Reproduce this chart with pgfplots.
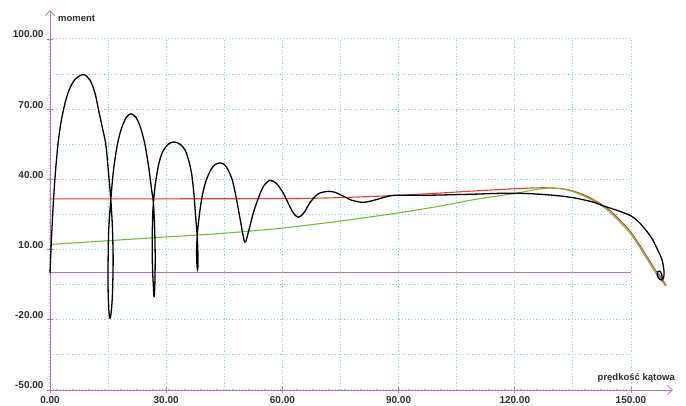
\documentclass[border=0pt]{standalone}
\usepackage{fontspec}
\setmainfont{Liberation Sans}
\usepackage{pgfplots}
\pgfplotsset{compat=1.18}
\usetikzlibrary{arrows.meta}
\definecolor{axp}{RGB}{192,110,192}
\definecolor{gridc}{RGB}{140,210,232}
\definecolor{redc}{RGB}{232,62,45}
\definecolor{greenc}{RGB}{110,190,60}
\definecolor{lab}{RGB}{45,45,45}
\begin{document}
\begin{tikzpicture}
\begin{axis}[name=ax, scale only axis, width=581pt, height=351pt,
 xmin=0, xmax=150, ymin=-50, ymax=100, clip=false,
 axis lines=left,
 axis line style={axp, line width=0.8pt},
 x axis line style={-{Straight Barb[length=5pt,width=9pt]}, shorten >=-42pt},
 y axis line style={-{Straight Barb[length=5pt,width=9pt]}, shorten >=-29pt},
 xtick={0,30,...,150}, ytick={-50,-20,...,100},
 minor xtick={15,45,...,135}, minor ytick={-35,-5,...,85},
 grid=both,
 major grid style={gridc, line width=1pt, dash pattern=on 1.2pt off 2pt},
 minor grid style={gridc, line width=1pt, dash pattern=on 1.2pt off 2pt},
 tick align=center, major tick length=6pt, minor tick length=0pt,
 tick style={axp, line width=0.8pt},
 /pgf/number format/.cd, fixed, fixed zerofill, precision=2, 1000 sep={}, assume math mode=true,
 /pgfplots/.cd,
 tick label style={font=\bfseries\fontsize{10}{12}\selectfont, text=lab},
 yticklabel style={anchor=base east, yshift=1pt},
]
\addplot[draw=axp, color=axp, line width=1pt, no marks] coordinates {(0,0) (150,0)};
\addplot[draw=redc, line width=1.1pt, smooth, no marks] coordinates {
(0,31.7) (30,31.7) (60,31.8) (70,32.0) (80,32.5) (90,33.2) (100,34.1) (110,35.1) (120,36.0) (126,36.4) (130,36.3) (134,35.5) (138,33.3) (141,30.7) (144,27.5) (147,22.8) (150,17.4) (153,10) (156,2) (158.2,-3) (159.1,-5.4)};
\addplot[draw=greenc, line width=1.1pt, smooth, no marks] coordinates {
(0,12.2) (15,13.8) (30,15.4) (45,17.0) (60,19.2) (75,22.2) (90,25.7) (100,28.4) (110,31.5) (120,34.0) (126,35.8) (130,36.3) (134,35.3) (138,32.8) (141,30.2) (144,26.8) (147,22) (150,16.5) (153,9) (156,1) (158,-3.5) (158.8,-5.5)};
\addplot[draw=black, line width=1.3pt, smooth, tension=0.5, no marks] coordinates {
(0,0) (0.3,12) (0.86,30) (1.4,43) (2.1,55.6) (2.9,65) (3.9,72.7) (5,78.5) (6.5,82.8) (8.6,84.8) (10.3,82.5) (11.6,77) (12.5,70) (13.4,63) (14.4,55) (15.1,43) (15.7,31.4) (16.1,20) (16.3,6) (16.15,-8) (15.85,-16) (15.5,-19.3) (15.2,-16) (15.0,-7) (15.0,5) (15.15,18) (15.7,31.4) (16.4,44) (17.4,55) (18.5,62) (19.7,66.5) (20.9,68) (22.2,66.5) (23.4,62) (24.5,55) (25.5,45) (26.2,36) (26.7,30) (27.0,20) (27.15,8) (27.1,-3) (26.95,-9) (26.85,-10) (26.7,-6) (26.45,3) (26.4,15) (26.5,24) (26.7,30) (27.2,38) (28,46) (29,51.5) (30.5,55) (32,56) (33.6,55) (34.9,52.5) (35.9,47.5) (36.6,42) (37.2,33) (37.6,24) (38.0,15.7) (38.2,8) (38.2,3) (38.1,1.5) (37.95,3) (37.85,9) (38.0,15.7) (38.5,24) (39.2,32) (40.2,39) (41.5,44) (42.6,46.3) (43.7,47) (44.9,46.5) (46,44) (47.1,39.5) (48.1,32) (49.2,22) (50.3,13.2) (51.3,18) (52.5,25.7) (53.8,32) (55.1,37) (56.8,39.6) (58.5,38.2) (60.2,34.2) (61.6,29.5) (62.8,25.7) (64.1,23.8) (65.5,25.6) (67.1,30) (68.5,32.8) (69.7,34.2) (71.9,34.9) (73.5,34.5) (74.9,33.5) (76.5,32.2) (77.9,31.1) (80.5,30.2) (82.5,30.6) (84.3,31.4) (87.8,33.0) (90,33.2) (95,33.2) (100,33.3) (105,33.5) (110,33.7) (115,34.0) (120,34.1) (125,33.8) (130,33.2) (135,32.2) (140,30.4) (143,28.6) (146,27) (148,25.8) (150,24.4) (152,21.8) (154,18) (155.5,14.5) (157,9.5) (158,5.7) (158.5,1) (158.45,-1.8) (158,-3) (157.3,-2.5) (156.8,-1) (156.9,0.5) (157.4,0.8) (157.9,-0.5) (158.1,-2.5)};
\node[anchor=west, inner sep=0, font=\bfseries\fontsize{9.5}{11}\selectfont, text=lab] at ([shift={(8pt,21pt)}]axis cs:0,100) {moment};
\node[anchor=east, inner sep=0, font=\bfseries\fontsize{9.5}{11}\selectfont, text=lab] at ([shift={(44pt,12pt)}]axis cs:150,-50) {prędkość kątowa};
\end{axis}
\pgfresetboundingbox
\path[use as bounding box] ([shift={(-50pt,-16pt)}]ax.south west) rectangle ([shift={(55pt,39pt)}]ax.north east);
\end{tikzpicture}
\end{document}
